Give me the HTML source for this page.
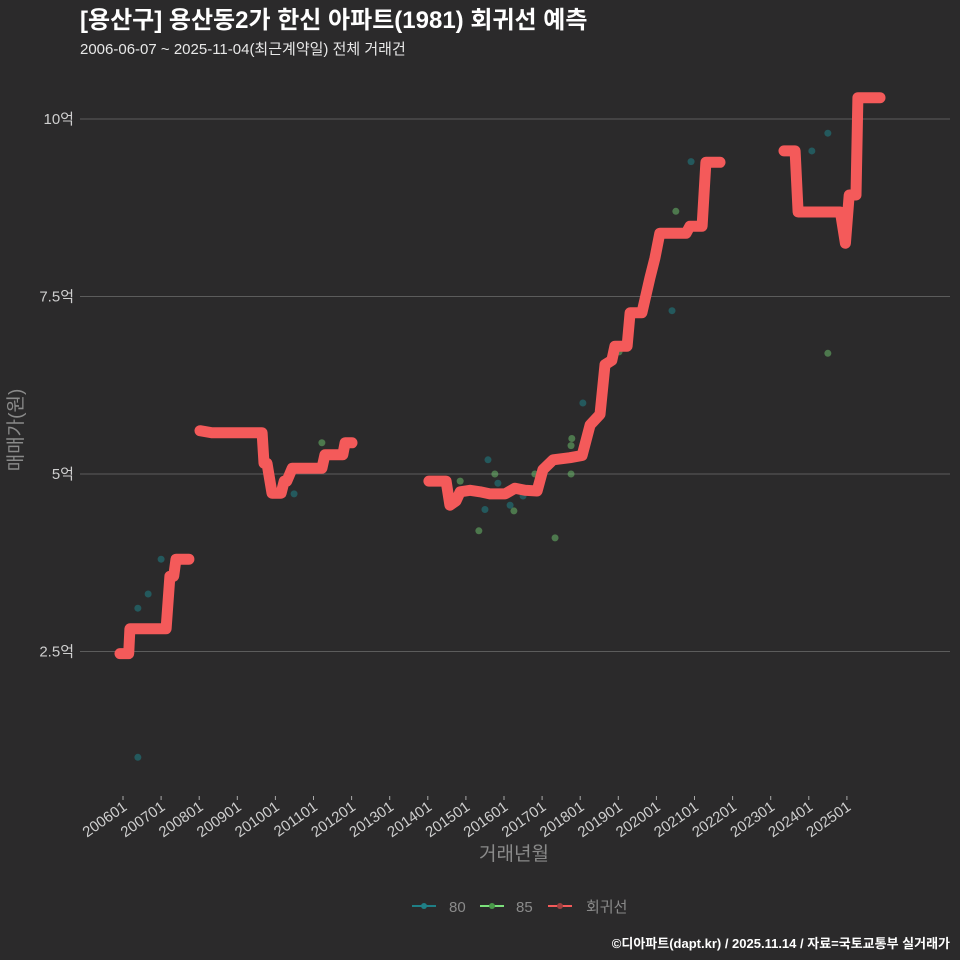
<!DOCTYPE html>
<html><head><meta charset="utf-8"><style>
body{margin:0;background:#2b2a2b;}
svg{display:block;font-family:"Liberation Sans","Noto Sans CJK KR",sans-serif;}
</style></head><body>
<svg id="c" width="960" height="960" viewBox="0 0 960 960">
<rect width="960" height="960" fill="#2b2a2b"/>
<text x="80" y="28" fill="#fff" font-size="24" font-weight="bold">[용산구] 용산동2가 한신 아파트(1981) 회귀선 예측</text>
<text x="80" y="54" fill="#e8e8e8" font-size="15">2006-06-07 ~ 2025-11-04(최근계약일) 전체 거래건</text>
<g id="grid"></g><g id="yt"></g><g id="xt"></g><g id="pts"></g><g id="line"></g>
<text transform="translate(22,430) rotate(-90)" text-anchor="middle" fill="#8a8a8a" font-size="19">매매가(원)</text>
<text x="514" y="860" text-anchor="middle" fill="#8a8a8a" font-size="19">거래년월</text>
<g font-size="15" fill="#8a8a8a">
<g><line x1="412" y1="906" x2="436" y2="906" stroke="#1f7f86" stroke-width="2"/><circle cx="424" cy="906" r="3" fill="#1f7f86"/><text x="449" y="912">80</text></g>
<g><line x1="480" y1="906" x2="504" y2="906" stroke="#7be07b" stroke-width="2"/><circle cx="492" cy="906" r="3" fill="#4a9a4a"/><text x="516" y="912">85</text></g>
<g><line x1="548" y1="906" x2="572" y2="906" stroke="#f45a5a" stroke-width="2"/><circle cx="560" cy="906" r="3" fill="#a04040"/><text x="586" y="912">회귀선</text></g>
</g>
<text x="950" y="948" text-anchor="end" fill="#fff" font-size="13" font-weight="bold">©디아파트(dapt.kr) / 2025.11.14 / 자료=국토교통부 실거래가</text>
</svg>
<script>
const yTicks=[2.5,5,7.5,10];
const yTickLabels=["2.5억","5억","7.5억","10억"];
const xTickYears=[2006,2007,2008,2009,2010,2011,2012,2013,2014,2015,2016,2017,2018,2019,2020,2021,2022,2023,2024,2025];
const xTickLabels=["200601","200701","200801","200901","201001","201101","201201","201301","201401","201501","201601","201701","201801","201901","202001","202101","202201","202301","202401","202501"];
const s80T=[2006.39,2006.39,2006.66,2007.00,2010.49,2015.50,2015.58,2015.84,2016.16,2016.50,2018.07,2020.41,2020.91,2024.08,2024.50];
const s80V=[1.01,3.11,3.31,3.80,4.72,4.50,5.20,4.87,4.56,4.69,6.00,7.30,9.40,9.55,9.80];
const s85T=[2011.22,2014.85,2015.34,2015.76,2016.26,2016.81,2017.34,2017.76,2017.78,2017.76,2019.02,2020.51,2024.50];
const s85V=[5.44,4.90,4.20,5.00,4.48,5.00,4.10,5.40,5.50,5.00,6.72,8.70,6.70];
const segments=[
 {t:[2005.92,2006.15,2006.18,2007.13,2007.23,2007.33,2007.39,2007.73],v:[2.47,2.47,2.82,2.82,3.56,3.56,3.80,3.80]},
 {t:[2008.02,2008.34,2009.65,2009.70,2009.78,2009.91,2010.15,2010.23,2010.30,2010.44,2011.22,2011.30,2011.77,2011.83,2012.01],v:[5.61,5.58,5.58,5.15,5.15,4.73,4.73,4.90,4.90,5.08,5.08,5.27,5.27,5.44,5.44]},
 {t:[2014.03,2014.48,2014.58,2014.74,2014.85,2015.11,2015.37,2015.63,2016.03,2016.29,2016.55,2016.87,2017.02,2017.29,2017.73,2018.05,2018.26,2018.52,2018.65,2018.83,2018.91,2019.23,2019.31,2019.62,2019.83,2019.96,2020.09,2020.78,2020.88,2021.20,2021.30,2021.67],v:[4.90,4.90,4.56,4.62,4.75,4.77,4.75,4.72,4.72,4.80,4.77,4.76,5.06,5.20,5.23,5.26,5.69,5.84,6.54,6.60,6.80,6.80,7.27,7.27,7.76,8.04,8.39,8.39,8.49,8.49,9.39,9.39]},
 {t:[2023.35,2023.64,2023.72,2024.83,2024.96,2025.06,2025.24,2025.29,2025.87],v:[9.55,9.55,8.69,8.69,8.25,8.93,8.93,10.30,10.30]}
];
const X=t=>123+(t-2006)*38.1;
const Y=v=>474-(v-5)*71;
const NS="http://www.w3.org/2000/svg";
function mk(tag,parent,attrs){const e=document.createElementNS(NS,tag);for(const k in attrs)e.setAttribute(k,attrs[k]);document.getElementById(parent).appendChild(e);return e;}
yTicks.forEach((v,i)=>{
 const g=mk('line','grid',{x1:80,x2:950,y1:Y(v),y2:Y(v),stroke:'#5c5c5c','stroke-width':1});
 
 
 const t=mk('text','yt',{x:74,y:Y(v)+5,'text-anchor':'end',fill:'#cfcfcf','font-size':15});
 t.textContent=yTickLabels[i];
 
 
});
xTickYears.forEach((yr,i)=>{
 const x=X(yr);
 const tk=mk('line','xt',{x1:x,x2:x,y1:796,y2:800,stroke:'#aaa','stroke-width':1});
 
 
 const t=mk('text','xt',{transform:`translate(${x+5},${809}) rotate(-35)`,'text-anchor':'end',fill:'#cfcfcf','font-size':15});
 t.textContent=xTickLabels[i];
 
 
});
s80T.forEach((t,i)=>{
 const c=mk('circle','pts',{cx:X(t),cy:Y(s80V[i]),r:3.5,fill:'#1f7f86','fill-opacity':0.55});
 
 
});
s85T.forEach((t,i)=>{
 const c=mk('circle','pts',{cx:X(t),cy:Y(s85V[i]),r:3.5,fill:'#6fc66f','fill-opacity':0.5});
 
 
});
segments.forEach(s=>{
 const d=s.t.map((t,i)=>(i?'L':'M')+X(t).toFixed(1)+','+Y(s.v[i]).toFixed(1)).join('');
 const p=mk('path','line',{d:d,fill:'none',stroke:'#f45a5a','stroke-width':11,'stroke-linejoin':'round','stroke-linecap':'round'});
 
 
});
</script>
</body></html>
